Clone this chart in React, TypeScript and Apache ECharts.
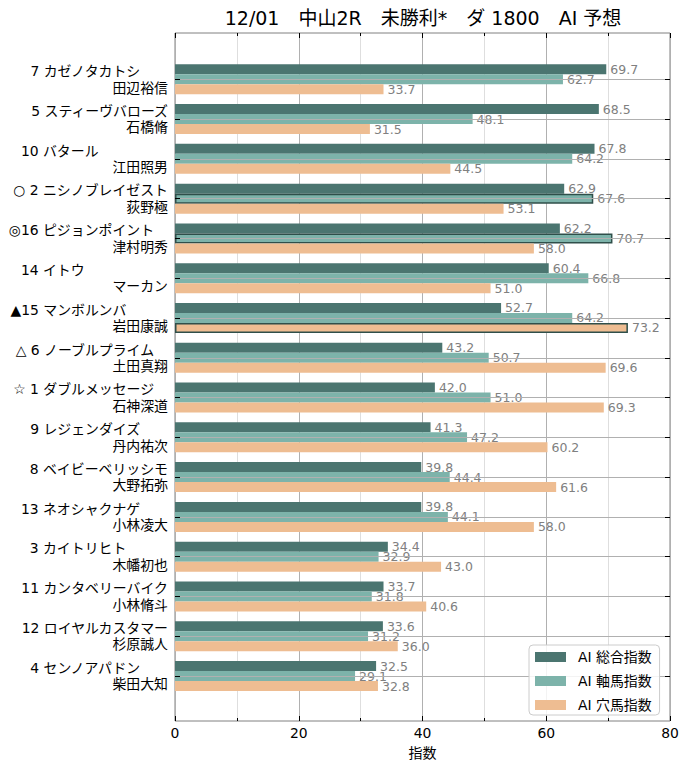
import React, { useEffect, useRef } from "react";
import * as echarts from "echarts";

const TITLE = "12/01　中山2R　未勝利*　ダ 1800　AI 予想";
const marks = ["", "", "", "○", "◎", "", "▲", "△", "☆", "", "", "", "", "", "", ""];
const nums = [7, 5, 10, 2, 16, 14, 15, 6, 1, 9, 8, 13, 3, 11, 12, 4];
const horses = [
  "カゼノタカトシ", "スティーヴバローズ", "バタール", "ニシノブレイゼスト", "ピジョンポイント",
  "イトウ", "マンボルンバ", "ノーブルプライム", "ダブルメッセージ", "レジェンダイズ",
  "ベイビーベリッシモ", "ネオシャクナゲ", "カイトリヒト", "カンタベリーバイク", "ロイヤルカスタマー", "センノアパドン",
];
const jockeys = [
  "田辺裕信", "石橋脩", "江田照男", "荻野極", "津村明秀", "マーカン", "岩田康誠", "土田真翔",
  "石神深道", "丹内祐次", "大野拓弥", "小林凌大", "木幡初也", "小林脩斗", "杉原誠人", "柴田大知",
];
const sogo = [69.7, 68.5, 67.8, 62.9, 62.2, 60.4, 52.7, 43.2, 42.0, 41.3, 39.8, 39.8, 34.4, 33.7, 33.6, 32.5];
const jiku = [62.7, 48.1, 64.2, 67.6, 70.7, 66.8, 64.2, 50.7, 51.0, 47.2, 44.4, 44.1, 32.9, 31.8, 31.2, 29.1];
const ana = [33.7, 31.5, 44.5, 53.1, 58.0, 51.0, 73.2, 69.6, 69.3, 60.2, 61.6, 58.0, 43.0, 40.6, 36.0, 32.8];
const seriesNames = ["AI 総合指数", "AI 軸馬指数", "AI 穴馬指数"];
const xTicks = [0, 20, 40, 60, 80];

const COLORS = ["#4b7570", "#7db3aa", "#eebd92"];
const FONT = "'DejaVu Sans', 'Noto Sans CJK JP', sans-serif";

export default function App() {
  const ref = useRef<HTMLDivElement>(null);
  useEffect(() => {
    document.body.style.margin = "0";
    document.body.style.overflow = "hidden";
    const chart = echarts.init(ref.current!, null, { renderer: "svg" });
    const cats = horses.map((h, i) => {
      const n = String(nums[i]);
      const prefix = marks[i] ? marks[i] + (n.length < 2 ? " " + n : n) : n;
      let name = h;
      while (name.length < 9) name += "\u3000";
      return `${prefix} ${name}\n${jockeys[i]}`;
    });
    const bordered = (s: number, i: number) =>
      (s === 1 && (marks[i] === "◎" || marks[i] === "○")) || (s === 2 && marks[i] === "▲");
    const mk = (vals: number[], s: number) => ({
      name: seriesNames[s],
      type: "bar",
      xAxisIndex: 2,
      yAxisIndex: 1,
      barWidth: 10,
      barGap: "0%",
      itemStyle: { color: COLORS[s] },
      data: vals.map((v, i) =>
        bordered(s, i)
          ? { value: v, itemStyle: { borderColor: "#2f4f4a", borderWidth: 1.5 } }
          : v
      ),
      label: {
        show: true,
        position: "right",
        distance: 4,
        color: "#808080",
        fontSize: 12.5,
        fontFamily: FONT,
        formatter: (p: any) => Number(p.value).toFixed(1),
      },
    });
    const tickCommon = {
      min: 0,
      max: 80,
      interval: 20,
      axisLine: { show: false },
      axisTick: { show: true, inside: true, length: 5, lineStyle: { color: "#000" } },
      minorTick: { show: true, splitNumber: 2, length: 3, lineStyle: { color: "#000" } },
    };
    chart.setOption({
      animation: false,
      textStyle: { fontFamily: FONT },
      graphic: [
        {
          type: "text",
          x: 423,
          y: 18,
          style: {
            text: TITLE,
            fontSize: 19,
            fontFamily: FONT,
            fill: "#000",
            textAlign: "center",
            textVerticalAlign: "middle",
          },
        },
      ],
      grid: [
        { left: 175, top: 33, width: 495, height: 688, show: true, borderColor: "#808080", borderWidth: 1, backgroundColor: "transparent" },
        { left: 175, top: 79.3, width: 495, height: 596.7 },
      ],
      xAxis: [
        {
          ...tickCommon,
          type: "value",
          gridIndex: 0,
          position: "bottom",
          axisLabel: {
            color: "#000",
            fontSize: 13.9,
            fontFamily: FONT,
            margin: 5,
            customValues: xTicks,
          },
          splitLine: { show: true, lineStyle: { color: "#b0b0b0", width: 1 } },
          minorSplitLine: { show: true, lineStyle: { color: "#dedede", width: 1 } },
          name: "指数",
          nameLocation: "middle",
          nameGap: 25,
          nameTextStyle: { color: "#000", fontSize: 14, fontFamily: FONT },
        },
        {
          ...tickCommon,
          type: "value",
          gridIndex: 0,
          position: "top",
          axisLabel: { show: false },
          splitLine: { show: false },
        },
        { type: "value", gridIndex: 1, min: 0, max: 80, show: false },
      ],
      yAxis: [
        { type: "value", gridIndex: 0, show: false, min: 0, max: 1 },
        {
          type: "category",
          gridIndex: 1,
          data: cats,
          inverse: true,
          boundaryGap: false,
          z: 3,
          axisLine: { show: false },
          axisTick: { show: true, inside: true, length: 5, lineStyle: { color: "#000" } },
          splitLine: { show: true, lineStyle: { color: "#b0b0b0", width: 1 } },
          axisLabel: {
            interval: 0,
            color: "#000",
            fontSize: 13.9,
            lineHeight: 16.5,
            margin: 7,
            fontFamily: FONT,
          },
        },
        {
          type: "category",
          gridIndex: 1,
          position: "right",
          data: cats,
          inverse: true,
          boundaryGap: false,
          z: 3,
          axisLine: { show: false },
          axisTick: { show: true, inside: true, length: 5, lineStyle: { color: "#000" } },
          splitLine: { show: false },
          axisLabel: { show: false },
        },
      ],
      legend: {
        orient: "vertical",
        left: 529,
        top: 645,
        data: seriesNames,
        icon: "rect",
        itemWidth: 31,
        itemHeight: 10,
        itemGap: 10,
        padding: [5, 8, 3, 6],
        backgroundColor: "rgba(255,255,255,0.85)",
        borderColor: "#cccccc",
        borderWidth: 1,
        borderRadius: 4,
        textStyle: { color: "#000", fontSize: 13.9, lineHeight: 14, fontFamily: FONT, padding: [0, 0, 0, 7] },
      },
      series: [mk(sogo, 0), mk(jiku, 1), mk(ana, 2)],
    });
    return () => chart.dispose();
  }, []);
  return <div ref={ref} style={{ width: 690, height: 771 }} />;
}
